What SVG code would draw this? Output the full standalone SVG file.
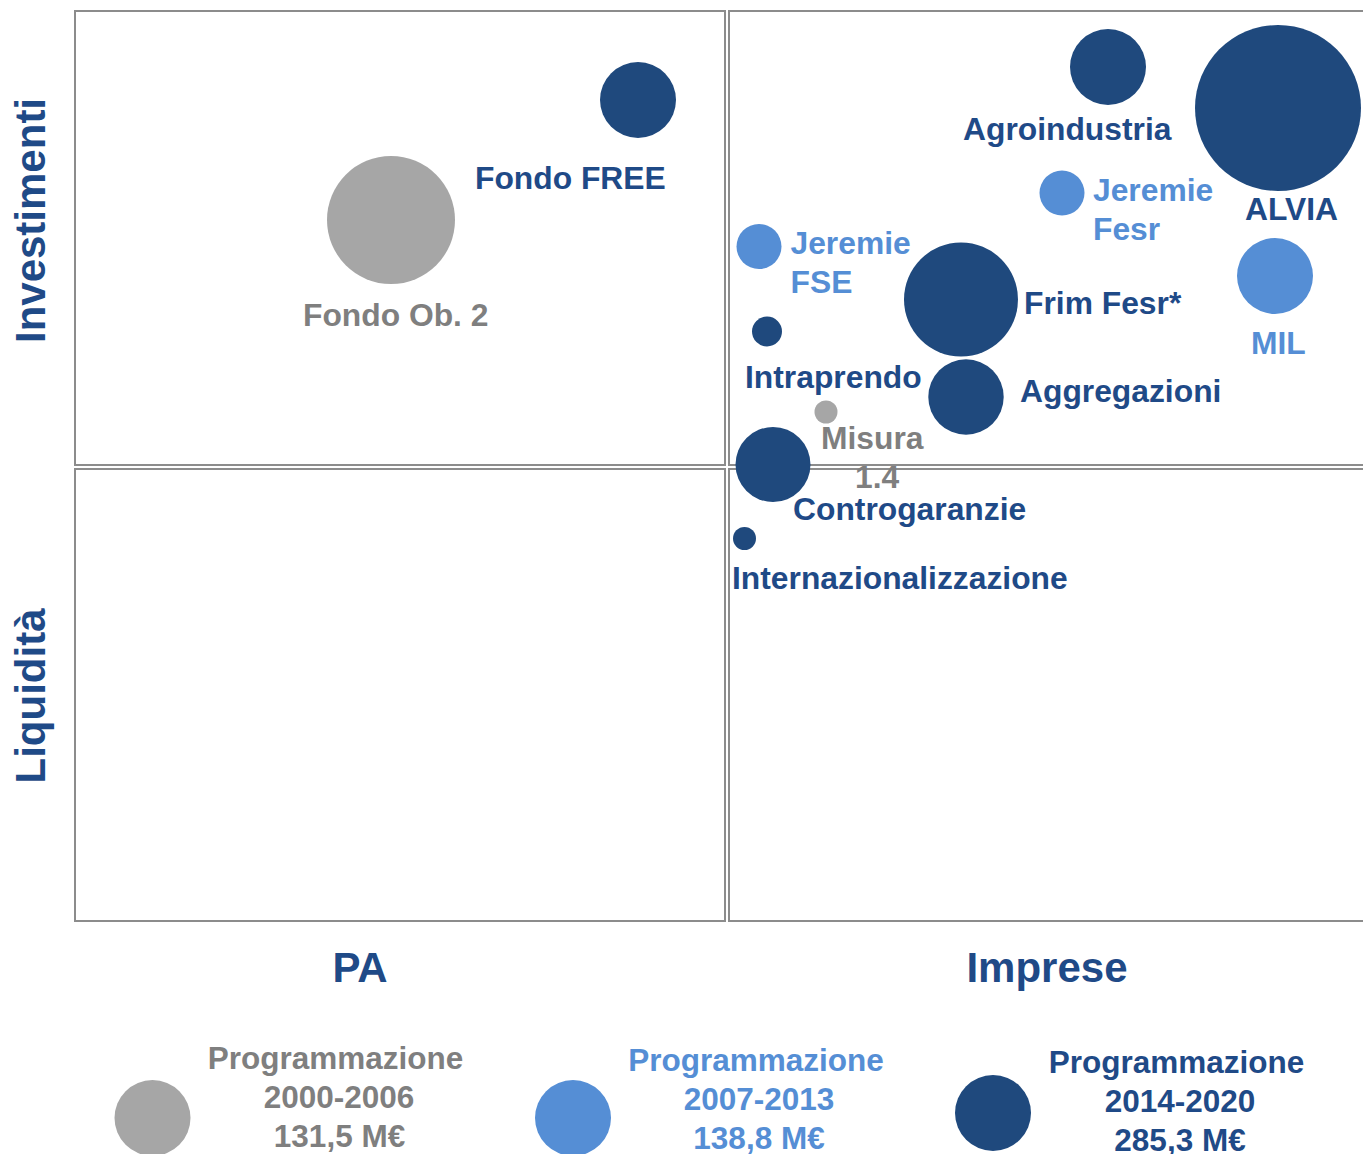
<svg xmlns="http://www.w3.org/2000/svg" width="1363" height="1154" viewBox="0 0 1363 1154">
<style>
.frame{fill:none;stroke:#8c8c8c;stroke-width:2}
.t{font-family:"Liberation Sans",Arial,sans-serif;font-weight:bold}
.lbl{font-size:31.8px}
.axis{font-size:42px;fill:#1F4A87}
.leg{font-size:31.5px;text-anchor:middle}
.dk{fill:#1F497D}
.lb{fill:#558ED5}
.gr{fill:#A6A6A6}
.tdk{fill:#1F4A87}
.tlb{fill:#558ED5}
.tgr{fill:#7F7F7F}
</style>
<rect width="1363" height="1154" fill="#ffffff"/>
<g id="quadrants">
<rect class="frame" x="75" y="11" width="650" height="454"/>
<rect class="frame" x="729" y="11" width="645" height="454"/>
<rect class="frame" x="75" y="469" width="650" height="452"/>
<rect class="frame" x="729" y="469" width="645" height="452"/>
</g>
<g id="axes" class="t axis">
<text transform="translate(45,220.5) rotate(-90)" text-anchor="middle">Investimenti</text>
<text transform="translate(45,696) rotate(-90)" text-anchor="middle">Liquidità</text>
<text x="360" y="982" text-anchor="middle">PA</text>
<text x="1047" y="982" text-anchor="middle">Imprese</text>
</g>
<g id="fondo-free"><circle class="dk" cx="638" cy="100" r="38"/><text class="t lbl tdk" x="475" y="189">Fondo FREE</text></g>
<g id="fondo-ob2"><circle class="gr" cx="391" cy="220" r="64"/><text class="t lbl tgr" x="303" y="326">Fondo Ob. 2</text></g>
<g id="agroindustria"><circle class="dk" cx="1108" cy="67" r="38"/><text class="t lbl tdk" x="963" y="140">Agroindustria</text></g>
<g id="alvia"><circle class="dk" cx="1278" cy="108" r="83"/><text class="t lbl tdk" x="1245" y="220">ALVIA</text></g>
<g id="jeremie-fesr"><circle class="lb" cx="1062" cy="193" r="22.5"/><text class="t lbl tlb" x="1093" y="201">Jeremie</text><text class="t lbl tlb" x="1093" y="239.5">Fesr</text></g>
<g id="mil"><circle class="lb" cx="1275" cy="276" r="38"/><text class="t lbl tlb" x="1251" y="353.5">MIL</text></g>
<g id="frim-fesr"><circle class="dk" cx="961" cy="299.5" r="57"/><text class="t lbl tdk" x="1024" y="314">Frim Fesr*</text></g>
<g id="aggregazioni"><circle class="dk" cx="966" cy="397" r="37.7"/><text class="t lbl tdk" x="1020" y="402">Aggregazioni</text></g>
<g id="jeremie-fse"><circle class="lb" cx="759" cy="246.5" r="22.5"/><text class="t lbl tlb" x="790.5" y="254">Jeremie</text><text class="t lbl tlb" x="790.5" y="292.5">FSE</text></g>
<g id="intraprendo"><circle class="dk" cx="767" cy="331.5" r="15"/><text class="t lbl tdk" x="745" y="387.5">Intraprendo</text></g>
<g id="misura-14"><circle class="gr" cx="826" cy="412" r="11.5"/><text class="t lbl tgr" x="821" y="449">Misura</text><text class="t lbl tgr" x="855" y="487.5">1.4</text></g>
<g id="controgaranzie"><circle class="dk" cx="773" cy="464.5" r="37.5"/><text class="t lbl tdk" x="793" y="519.5">Controgaranzie</text></g>
<g id="internazionalizzazione"><circle class="dk" cx="744.5" cy="538.5" r="11.5"/><text class="t lbl tdk" x="732" y="588.5">Internazionalizzazione</text></g>
<g id="legend-2000-2006"><circle class="gr" cx="152.5" cy="1118" r="38"/><text class="t leg tgr" x="335.5" y="1069">Programmazione</text><text class="t leg tgr" x="339" y="1108">2000-2006</text><text class="t leg tgr" x="339.5" y="1147">131,5 M€</text></g>
<g id="legend-2007-2013"><circle class="lb" cx="573" cy="1118" r="38"/><text class="t leg tlb" x="756" y="1071">Programmazione</text><text class="t leg tlb" x="759" y="1110">2007-2013</text><text class="t leg tlb" x="759" y="1149">138,8 M€</text></g>
<g id="legend-2014-2020"><circle class="dk" cx="993" cy="1113" r="38"/><text class="t leg tdk" x="1176.5" y="1073">Programmazione</text><text class="t leg tdk" x="1180" y="1112">2014-2020</text><text class="t leg tdk" x="1180" y="1151">285,3 M€</text></g>
</svg>
